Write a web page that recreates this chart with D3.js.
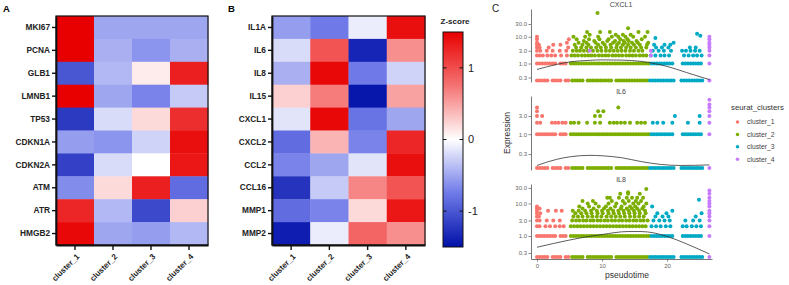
<!DOCTYPE html>
<html>
<head>
<meta charset="utf-8">
<script src="https://cdn.jsdelivr.net/npm/d3@7"></script>
<style>
body{margin:0;background:#fff}
svg{display:block;font-family:"Liberation Sans",Arial,sans-serif}
</style>
</head>
<body>
<svg id="chart" width="789" height="285"></svg>
<script>
// ---- heatmap data (z-scores)
const clusters = ["cluster_1", "cluster_2", "cluster_3", "cluster_4"];
const genesA = ["MKI67", "PCNA", "GLB1", "LMNB1", "TP53", "CDKN1A", "CDKN2A", "ATM", "ATR", "HMGB2"];
const zA = [
	[1.5, -0.5, -0.5, -0.5],
	[1.5, -0.45, -0.6, -0.45],
	[-1.0, -0.4, 0.1, 1.3],
	[1.5, -0.5, -0.7, -0.3],
	[-1.2, -0.2, 0.2, 1.2],
	[-0.55, -0.6, -0.25, 1.4],
	[-1.15, -0.2, 0.0, 1.35],
	[-0.65, 0.2, 1.3, -0.85],
	[1.25, -0.4, -1.1, 0.25],
	[1.45, -0.5, -0.55, -0.4]
];
const genesB = ["IL1A", "IL6", "IL8", "IL15", "CXCL1", "CXCL2", "CCL2", "CCL16", "MMP1", "MMP2"];
const zB = [
	[-0.55, -0.75, -0.1, 1.4],
	[-0.2, 0.95, -1.35, 0.6],
	[-0.45, 1.45, -0.75, -0.25],
	[0.25, 0.7, -1.45, 0.5],
	[-0.15, 1.45, -0.8, -0.5],
	[-0.85, 0.4, -0.7, 1.25],
	[-0.7, -0.5, -0.15, 1.4],
	[-1.25, -0.3, 0.65, 0.95],
	[-0.85, -0.7, 0.2, 1.35],
	[-1.4, -0.1, 0.85, 0.6]
];
const zTicks = [1, 0, -1];

// ---- pseudotime data: rows of [cluster, expression, "pseudotime list"]; 0 = no expression
const facetNames = ["CXCL1", "IL6", "IL8"];
const floorRows = [
	[1, 0, "0 0.4 0.8 1.2 1.6 2.4 2.8 3.2 3.6 4.4 4.8"],
	[2, 0, "5.4 5.8 6.2 6.6 7 7.8 8.2 8.6 9 9.4 9.8 10.2 10.6 11 11.4 12.2 12.6 13 13.4 13.8 14.2 14.6 15 15.4 15.8 16.2 16.6 17"],
	[3, 0, "17.4 17.8 18.2 18.6 19 19.4 19.8 20.2 20.6 21 22.2 22.6 23 23.4 23.8 24.2 24.6 25 25.4"],
	[4, 0, "26.5"]
];
const oneRows = [
	[1, 1, "0 0.4 0.8 1.2 1.6 2 2.4 2.8 3.6 4 4.4"],
	[2, 1, "5.2 5.6 6 6.4 6.8 7.2 7.6 8 8.4 8.8 9.2 9.6 10 10.4 10.8 11.2 11.6 12 12.4 12.8 13.2 13.6 14 14.4 14.8 15.2 15.6 16 16.4 16.8 17.2"],
	[3, 1, "17.6 18 18.4 18.8 19.2 19.6 20 20.4 20.8 22.4 22.8 23.2 23.6 24 24.4 24.8 25.2"],
	[4, 1, "26.5"]
];
const cxcl1Rows = [
	[1, 2, "0 0.4 0.9 1.6 2.2 2.8 3.7 4.6"],
	[1, 3, "0 0.5 1.5 2.4 3.5 4.5"],
	[1, 4, "0 0.4 1.8 4.8"],
	[1, 5, "0 0.3 2.5 3.6"],
	[1, 6, "0 4.6"],
	[1, 8, "0 4.9"],
	[1, 10, "0"],
	[2, 2, "5.3 5.8 6.3 6.9 7.4 7.9 8.4 8.9 9.5 10 10.5 11 11.6 12.1 12.6 13.1 13.7 14.2 14.7 15.2 15.8 16.3 16.8"],
	[2, 3, "5.5 6.1 6.6 7.2 7.8 8.6 9.3 9.9 10.6 11.2 11.8 12.4 13 13.6 14.3 14.9 15.6 16.2"],
	[2, 4, "6 6.8 7.6 8.3 9.1 9.8 10.6 11.4 12.2 12.9 13.7 14.4 15.2 16 16.8"],
	[2, 5, "5.8 7 7.9 9.4 10.4 11.3 12.3 13.2 14 14.9 15.8 16.9"],
	[2, 6, "6.4 7.6 9 10.1 11.7 12.6 13.5 14.6 15.5 17.1"],
	[2, 7, "7.2 8.8 10.8 12 13.3 14.1 15.3"],
	[2, 8, "6.1 8 9.6 11 12.8 13.9 16.1"],
	[2, 10, "5.6 7.4 9.4 11.5 12.5 13.6 14.8 16.6"],
	[2, 12, "8.1 12.1 13.2 14.4"],
	[2, 15, "7.7 9.7 11.2 15.6 17"],
	[2, 21, "14"],
	[2, 78, "9.3"],
	[3, 2, "17.5 18.2 19 19.6 20.3 22.6 23.3 24 24.6 25.3"],
	[3, 3, "17.8 18.7 19.5 20.6 22.3 22.9 23.6 24.3 25"],
	[3, 4, "18.3 19.2 20.2 23.5 24.4"],
	[3, 5, "18 19.6 20.5"],
	[3, 6, "21"],
	[3, 9, "18.2"],
	[3, 11, "25.1"],
	[3, 13, "24.6"],
	[4, 2, "17.5 26.5"],
	[4, 3, "8.1 17.5 26.5"],
	[4, 4, "26.5"],
	[4, 5, "26.5"],
	[4, 6, "26.5"],
	[4, 8, "26.5"],
	[4, 10, "26.5"]
];
const il6Rows = [
	[1, 2, "0 0.5 2.3 2.8 3.3 3.9 4.4"],
	[1, 3, "0 0.8"],
	[1, 4, "0"],
	[1, 5, "0"],
	[2, 2, "5.2 5.7 6.4 7.7 8.9 9.7 11.2 11.8 12.3 12.9 13.5 14.3 15.4 16 16.6"],
	[2, 3, "8.9 9.7"],
	[2, 4, "9.4 10.2"],
	[2, 5, "12.5"],
	[3, 2, "17.8 18.5 19.4 20.8 23.2 25"],
	[3, 3, "21.2 25"],
	[4, 2, "26.5"],
	[4, 3, "26.5"],
	[4, 4, "26.5"],
	[4, 5, "26.5"],
	[4, 6, "26.5"],
	[4, 8, "26.5"]
];
const il8Rows = [
	[1, 2, "0 0.4 1.3 2 2.8 3.5 4.1"],
	[1, 3, "0 0.4 1.5 2.5 3.5"],
	[1, 4, "0 0.3"],
	[1, 5, "0 0.5"],
	[1, 6, "0 1.7 2.9 3.8"],
	[1, 7, "0 0.4"],
	[1, 8, "0"],
	[2, 2, "5.2 5.7 6.2 6.7 7.2 7.7 8.2 8.7 9.2 9.7 10.2 10.7 11.2 11.7 12.2 12.7 13.2 13.7 14.2 14.7 15.2 15.7 16.2 16.7"],
	[2, 3, "5.4 6 6.5 7.1 7.6 8.2 8.7 9.3 9.8 10.4 10.9 11.5 12 12.6 13.1 13.7 14.2 14.8 15.3 15.9 16.4 17"],
	[2, 4, "5.6 6.3 7 7.8 8.5 9.2 9.9 10.7 11.4 12.1 12.8 13.5 14.3 15 15.7 16.4"],
	[2, 5, "5.9 6.8 7.6 8.4 9.3 10.1 11 11.8 12.6 13.4 14.2 15 15.8 16.7"],
	[2, 6, "5.5 6.4 7.4 8.3 9.2 10 10.9 11.7 12.5 13.3 14.1 14.9 15.7 16.6"],
	[2, 7, "7 8.7 10.3 11.3 12.9 13.8 14.6 15.4 16.2"],
	[2, 8, "6.5 8 9.5 10.6 12 13 14.3 15.1 16.4"],
	[2, 10, "7.8 9 11 12.2 13.5 14.8 15.6 16.8"],
	[2, 12, "7 8.6 11.5 13.2 14.1 15.2 16"],
	[2, 15, "10.8 11.2 12.6 13.8 14.6 15.4 16.3"],
	[2, 20, "12.8 14 15.8"],
	[2, 22, "14"],
	[2, 28, "16.8"],
	[3, 2, "17.6 18.3 19 19.8 20.5 22.4 23 23.8 24.5 25.2"],
	[3, 3, "17.9 18.8 19.6 20.4 22.8 24 25"],
	[3, 4, "18.2 19.3 20.2 24.4"],
	[3, 5, "18.5 19.9 25.3"],
	[3, 6, "20.8"],
	[3, 8, "17.7"],
	[3, 13, "24.9"],
	[4, 2, "26.5"],
	[4, 3, "26.5"],
	[4, 4, "26.5"],
	[4, 5, "26.5"],
	[4, 6, "26.5"],
	[4, 8, "26.5"],
	[4, 10, "26.5"],
	[4, 12, "26.5"],
	[4, 15, "26.5"],
	[4, 20, "26.5"],
	[4, 25, "26.5"]
];
// smoothed trend, [pseudotime, expression]
const cxcl1Trend = [[0, 0.6], [3, 0.92], [5, 1.15], [8, 1.31], [10, 1.37], [13, 1.34], [16, 1.2], [18, 1.0], [20, 0.78], [23, 0.46], [26.5, 0.25]];
const il6Trend = [[0, 0.15], [3, 0.217], [5, 0.253], [8, 0.277], [10, 0.27], [13, 0.24], [16, 0.19], [19, 0.16], [22, 0.15], [26.5, 0.155]];
const il8Trend = [[0, 0.45], [5, 0.75], [8, 0.97], [10, 1.11], [14, 1.37], [16, 1.37], [18, 1.24], [20, 0.97], [23, 0.57], [26.5, 0.28]];
const cxcl1Ticks = [0.3, 1, 3, 10, 30];
const il6Ticks = [0.3, 1, 3];
const il8Ticks = [0.3, 1, 3, 10, 30];
const timeTicks = [0, 10, 20];
const clusterColours = ["#F8766D", "#7CAE00", "#00A9C4", "#C77CFF"];

let svg = d3.select("#chart");

let zColour = d3.scaleLinear()
	.domain([-1.5, -0.75, 0, 0.75, 1.5])
	.range(["#0010a8", "#6f7ae8", "#ffffff", "#f57373", "#e80000"]);

function drawHeat(x0, x1, genes, z){
	let top = 16, bottom = 245;
	let scaleX = d3.scaleBand().domain(clusters).range([x0, x1]);
	let scaleY = d3.scaleBand().domain(genes).range([top, bottom]);
	let group = svg.append("g");

	let rows = group.selectAll("g.row")
		.data(genes)
		.join("g")
		.attr("class", "row")
		.attr("transform", d => "translate(0," + scaleY(d) + ")");
	rows.selectAll("rect")
		.data((d, i) => z[i])
		.join("rect")
		.attr("x", (d, j) => scaleX(clusters[j]))
		.attr("y", 0)
		.attr("width", scaleX.bandwidth() + 0.4)
		.attr("height", scaleY.bandwidth() + 0.4)
		.attr("fill", d => zColour(d));

	group.append("rect")
		.attr("x", x0).attr("y", top)
		.attr("width", x1 - x0).attr("height", bottom - top)
		.attr("fill", "none").attr("stroke", "#111").attr("stroke-width", 1.2);

	let axisY = group.append("g")
		.attr("transform", "translate(" + x0 + ",0)")
		.call(d3.axisLeft(scaleY).tickSize(4).tickPadding(2).tickSizeOuter(0));
	axisY.select(".domain").attr("stroke", "#111").attr("stroke-width", 1.8);
	axisY.selectAll(".tick line").attr("stroke", "#111").attr("stroke-width", 1.4);
	axisY.selectAll("text").attr("font-size", 8.3).attr("font-weight", "bold")
		.attr("fill", "#222").attr("font-family", "Liberation Sans, Arial, sans-serif");

	let axisX = group.append("g")
		.attr("transform", "translate(0," + bottom + ")")
		.call(d3.axisBottom(scaleX).tickSize(5).tickSizeOuter(0));
	axisX.select(".domain").attr("stroke", "#111").attr("stroke-width", 1.8);
	axisX.selectAll(".tick line").attr("stroke", "#111").attr("stroke-width", 1.4);
	axisX.selectAll("text")
		.attr("x", 0).attr("y", 0).attr("dy", "0.35em")
		.attr("transform", "translate(3,10) rotate(-45)")
		.attr("text-anchor", "end")
		.attr("font-size", 8).attr("font-weight", "bold").attr("fill", "#222")
		.attr("font-family", "Liberation Sans, Arial, sans-serif");
}

drawHeat(56, 208, genesA, zA);
drawHeat(272, 425, genesB, zB);

svg.append("text").attr("x", 3).attr("y", 11.5).attr("font-size", 9.5).attr("font-weight", "bold").text("A");
svg.append("text").attr("x", 228).attr("y", 11.5).attr("font-size", 9.5).attr("font-weight", "bold").text("B");
svg.append("text").attr("x", 492).attr("y", 11.5).attr("font-size", 10).attr("fill", "#222").text("C");

// ---- colour bar
let scaleZ = d3.scaleLinear().domain([-1.5, 1.5]).range([247, 32]);
let grad = svg.append("defs").append("linearGradient")
	.attr("id", "zGrad").attr("x1", 0).attr("y1", 1).attr("x2", 0).attr("y2", 0);
grad.selectAll("stop")
	.data(zColour.domain())
	.join("stop")
	.attr("offset", d => ((d + 1.5) / 3 * 100) + "%")
	.attr("stop-color", d => zColour(d));
svg.append("rect")
	.attr("x", 443).attr("y", scaleZ(1.5))
	.attr("width", 20).attr("height", scaleZ(-1.5) - scaleZ(1.5))
	.attr("fill", "url(#zGrad)").attr("stroke", "#111").attr("stroke-width", 1);
svg.append("text").attr("x", 455).attr("y", 24).attr("text-anchor", "middle")
	.attr("font-size", 8).attr("font-weight", "bold").attr("fill", "#222").text("Z-score");
let zt = svg.selectAll("g.ztick").data(zTicks).join("g").attr("class", "ztick")
	.attr("transform", d => "translate(0," + scaleZ(d) + ")");
zt.append("line").attr("x1", 443).attr("x2", 446.5).attr("stroke", "#111").attr("stroke-width", 1);
zt.append("line").attr("x1", 459.5).attr("x2", 463).attr("stroke", "#111").attr("stroke-width", 1);
zt.append("text").attr("x", 468).attr("dy", "0.36em").attr("font-size", 11).attr("fill", "#222")
	.text(d => String(d));

// ---- panel C
let scaleT = d3.scaleLinear().domain([-0.92, 26.9]).range([531, 712]);
let facets = [
	{name: facetNames[0], rows: floorRows.concat(oneRows, cxcl1Rows), trend: cxcl1Trend, ticks: cxcl1Ticks,
		range: [82, 9], domain: [0.204, 109], floor: 0.23},
	{name: facetNames[1], rows: floorRows.concat(oneRows, il6Rows), trend: il6Trend, ticks: il6Ticks,
		range: [170, 96], domain: [0.114, 10.1], floor: 0.128},
	{name: facetNames[2], rows: floorRows.concat(oneRows, il8Rows), trend: il8Trend, ticks: il8Ticks,
		range: [259, 184], domain: [0.196, 39.7], floor: 0.226}
];

facets.forEach(function(f, k){
	let scaleE = d3.scaleLog().domain(f.domain).range(f.range);
	let g = svg.append("g").attr("class", "facet");

	let pts = [];
	[1, 2, 3, 4].forEach(function(c){
		f.rows.filter(r => r[0] === c).forEach(function(r){
			r[2].split(" ").map(Number).forEach(t => pts.push({t: t, v: r[1], c: c}));
		});
	});
	g.selectAll("circle")
		.data(pts)
		.join("circle")
		.attr("cx", d => scaleT(d.t))
		.attr("cy", d => scaleE(d.v === 0 ? f.floor : d.v))
		.attr("r", 2)
		.attr("fill", d => clusterColours[d.c - 1]);

	g.append("path")
		.datum(f.trend)
		.attr("d", d3.line().x(d => scaleT(d[0])).y(d => scaleE(d[1])).curve(d3.curveMonotoneX))
		.attr("fill", "none").attr("stroke", "#333").attr("stroke-width", 0.8);

	let ay = g.append("g").attr("transform", "translate(531,0)")
		.call(d3.axisLeft(scaleE).tickValues(f.ticks).tickFormat(d3.format(".1f")).tickSize(2.5).tickPadding(1.5).tickSizeOuter(0));
	ay.select(".domain").attr("stroke", "#555").attr("stroke-width", 0.8);
	ay.selectAll(".tick line").attr("stroke", "#555").attr("stroke-width", 0.7);
	ay.selectAll("text").attr("font-size", 6).attr("fill", "#666")
		.attr("font-family", "Liberation Sans, Arial, sans-serif");

	g.append("text").attr("x", 621).attr("y", f.range[1] - 2.5).attr("text-anchor", "middle")
		.attr("font-size", 7).attr("fill", "#444").text(f.name);

	if (k === facets.length - 1){
		let ax = g.append("g").attr("transform", "translate(0," + f.range[0] + ")")
			.call(d3.axisBottom(scaleT).tickValues(timeTicks).tickSize(2.5).tickPadding(2).tickSizeOuter(0));
		ax.select(".domain").attr("stroke", "#555").attr("stroke-width", 0.8);
		ax.selectAll(".tick line").attr("stroke", "#555").attr("stroke-width", 0.7);
		ax.selectAll("text").attr("font-size", 6).attr("fill", "#666")
			.attr("font-family", "Liberation Sans, Arial, sans-serif");
	}
});

svg.append("text").attr("x", 627).attr("y", 277.5).attr("text-anchor", "middle")
	.attr("font-size", 8.5).attr("fill", "#333").text("pseudotime");
svg.append("text").attr("transform", "translate(510,133) rotate(-90)").attr("text-anchor", "middle")
	.attr("font-size", 8.5).attr("fill", "#333").text("Expression");

// ---- legend
let legend = svg.append("g").attr("transform", "translate(731,0)");
legend.append("text").attr("x", 0).attr("y", 110).attr("font-size", 7.8).attr("fill", "#333").text("seurat_clusters");
let items = legend.selectAll("g.item").data(clusters).join("g").attr("class", "item")
	.attr("transform", (d, i) => "translate(0," + (122 + i * 12.4) + ")");
items.append("circle").attr("cx", 6.5).attr("cy", 0).attr("r", 1.75).attr("fill", (d, i) => clusterColours[i]);
items.append("text").attr("x", 16).attr("dy", "0.35em").attr("font-size", 6.8).attr("fill", "#444").text(d => d);
</script>
</body>
</html>
